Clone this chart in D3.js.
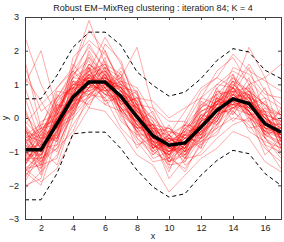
<!DOCTYPE html>
<html>
<head>
<meta charset="utf-8">
<script src="https://cdn.jsdelivr.net/npm/d3@7"></script>
<style>
  body { margin: 0; background: #fff; }
  svg { display: block; font-family: "Liberation Sans", Arial, sans-serif; }
</style>
</head>
<body>
<svg id="chart" width="284" height="242"></svg>
<script>
// x positions 1..17
var xs = d3.range(1, 18);

// cluster mean and +/- bands
var meanCurve = [-0.94, -0.94, -0.17, 0.62, 1.07, 1.07, 0.64, 0.03, -0.53, -0.81, -0.74, -0.27, 0.23, 0.57, 0.43, -0.17, -0.42];
var upperBand = [0.57, 0.57, 1.27, 2.1, 2.55, 2.55, 2.16, 1.37, 0.97, 0.65, 0.77, 1.17, 1.71, 2.06, 1.96, 1.42, 1.17];
var lowerBand = [-2.43, -2.43, -1.65, -0.47, -0.42, -0.42, -0.91, -1.55, -2.05, -2.35, -2.25, -1.7, -1.26, -0.96, -1.06, -1.65, -2.0];

// individual curves of the cluster
var curves = [
  [-0.5,-1.2,0.3,0.9,1.6,1.2,0.2,0.4,-0.8,-1.1,-0.3,-0.6,0.5,0.9,0.1,0.2,-0.9],
  [-1.4,-0.6,-0.5,1.1,0.8,1.5,1.0,-0.3,-0.2,-1.3,-1.0,0.1,-0.1,0.8,0.9,-0.5,-0.1],
  [0.2,-0.8,0.4,0.3,1.3,0.7,1.1,0.5,-0.9,-0.5,-1.2,-0.5,0.6,0.3,0.7,0.1,-0.6],
  [-1.7,-1.3,-0.9,0.2,0.9,1.8,0.3,-0.4,-0.7,-1.6,-0.4,-0.9,0.0,1.1,0.2,-0.8,-1.0],
  [-0.9,-0.2,0.6,1.4,1.0,0.6,1.4,0.2,-0.2,-0.6,-0.9,0.4,0.7,0.2,1.0,0.3,0.1],
  [2.4,1.0,0.1,1.2,2.2,1.4,0.9,0.8,-0.4,-0.3,-0.8,-0.1,0.9,1.3,0.6,0.4,-0.2],
  [-2.1,-1.6,-1.1,-0.2,0.5,0.9,0.1,-0.7,-1.3,-1.2,-1.5,-0.8,-0.4,0.2,-0.2,-0.9,-1.3],
  [-1.0,-0.4,-0.7,0.8,1.9,1.1,0.7,-0.2,-0.6,-0.9,-0.2,-0.3,0.3,0.4,1.2,-0.3,-0.5],
  [-0.3,-1.5,0.0,0.5,0.7,1.3,0.4,0.6,-0.1,-1.0,-0.6,-0.7,0.1,0.9,0.2,0.5,-0.7],
  [-1.2,-0.9,-1.4,0.0,1.3,0.8,1.2,0.1,-1.0,-0.7,-1.1,0.2,0.4,0.6,0.0,-0.4,-0.3],
  [1.7,-0.3,0.9,1.5,2.9,1.6,1.3,0.2,-0.3,-0.4,-0.5,0.3,1.0,1.4,1.1,0.6,0.3],
  [-1.6,-2.0,-0.6,0.4,0.6,0.9,-0.1,-0.5,-0.9,-1.4,-1.3,-0.6,-0.3,0.0,-0.1,-0.6,-1.1],
  [-0.7,-0.5,0.2,1.0,1.2,2.0,0.9,0.0,-0.7,-0.8,-0.5,-0.2,0.2,1.0,0.5,0.0,-0.4],
  [-1.1,-1.1,-0.4,0.6,0.4,1.0,0.5,0.3,-0.4,-1.5,-0.9,0.0,0.5,0.3,0.8,-0.2,0.2],
  [0.6,-0.7,0.8,0.7,1.5,0.5,0.8,-0.1,0.2,-0.9,-0.7,-0.4,0.8,0.7,0.3,0.9,-0.5],
  [-1.9,-1.0,-0.2,0.1,1.1,1.2,0.0,-0.6,-1.1,-0.6,-1.4,-1.0,-0.2,0.5,-0.4,-0.7,-0.9],
  [-0.4,-0.9,-0.8,1.3,1.7,0.9,1.5,0.7,-0.5,-1.2,-0.1,-0.5,0.0,1.2,0.6,-0.1,0.0],
  [-1.3,-0.7,0.5,0.9,0.3,1.4,0.6,-0.3,-0.8,-0.5,-1.0,0.3,0.6,-0.1,0.4,0.0,-0.8],
  [1.2,0.5,-0.3,1.8,2.3,1.9,1.1,0.9,0.1,-0.6,-0.2,0.6,0.4,1.5,1.3,0.7,0.6],
  [-1.5,-1.4,-1.2,0.3,0.8,0.4,0.2,-0.9,-0.3,-1.1,-1.6,-0.7,-0.5,0.4,0.1,-1.1,-0.6],
  [-0.8,-0.1,0.1,0.4,1.4,1.6,0.8,0.5,-0.6,-0.4,-0.6,-0.9,0.7,0.8,-0.1,0.3,-0.3],
  [-0.2,-1.3,-0.5,1.6,1.0,0.8,0.3,-0.4,-1.2,-1.0,-0.3,0.0,-0.2,0.6,0.7,-0.6,-1.2],
  [-1.8,-0.8,0.7,0.2,1.2,1.0,1.3,0.1,-0.4,-1.3,-0.8,-0.3,0.3,0.9,0.3,0.2,0.1],
  [-0.6,-1.7,-0.1,0.7,1.8,1.3,0.5,0.8,-0.9,-0.2,-1.0,-0.1,0.9,0.1,0.9,-0.3,-0.4],
  [0.9,-0.4,0.3,1.0,0.9,2.2,1.7,0.3,0.0,-0.7,-0.4,0.2,0.5,1.1,0.8,0.4,-0.1],
  [-1.2,-1.2,-0.9,-0.4,0.7,0.6,-0.3,-0.8,-0.6,-1.8,-1.2,-1.1,-0.6,-0.2,0.0,-0.8,-1.5],
  [-0.1,-0.6,0.5,1.2,1.1,0.7,0.6,-0.2,-0.2,-0.9,-0.7,-0.6,0.1,0.7,1.5,0.1,-0.6],
  [-1.0,-0.3,-0.6,0.5,1.6,1.1,1.0,0.2,-1.1,-0.6,-0.9,0.5,0.2,0.2,-0.3,-0.2,-0.2],
  [-2.0,-1.8,-0.3,0.0,0.6,1.3,0.2,-0.1,-0.8,-1.1,-0.5,-0.8,-0.1,0.6,0.2,-0.5,-0.8],
  [-0.5,-0.2,-0.1,0.8,1.3,1.5,0.4,0.6,-0.3,-0.8,-1.3,-0.2,0.4,1.0,0.6,0.0,-0.3],
  [0.3,-1.0,0.0,1.4,0.8,1.0,1.2,-0.5,-0.5,-0.3,-0.6,-0.4,0.8,0.5,0.2,-0.4,0.3],
  [-1.4,-0.5,-0.7,0.3,1.5,0.4,0.7,0.4,-0.7,-1.0,-0.8,0.1,0.0,0.9,0.4,0.6,-0.7],
  [-0.9,-1.6,0.2,1.1,1.0,1.7,0.1,-0.3,-0.2,-1.4,-0.2,-0.5,0.6,0.4,1.0,-0.1,-0.5],
  [-1.6,-0.9,-0.4,0.6,2.0,1.2,0.9,-0.6,-1.0,-0.5,-1.1,-0.3,0.2,1.3,0.0,-0.3,-1.0],
  [-0.7,-1.1,0.4,0.1,1.2,0.5,0.6,0.1,-0.6,-1.2,-0.4,0.4,0.3,0.1,0.7,-0.6,-0.2],
  [1.5,0.2,0.6,0.9,1.4,2.4,1.6,0.4,0.3,-0.1,-0.1,0.8,1.2,0.9,1.6,0.8,0.4],
  [-1.1,-0.7,-1.0,0.4,0.9,0.9,0.3,0.0,-0.9,-0.7,-1.0,-0.7,-0.3,0.7,0.2,-0.4,-0.6],
  [-0.3,-1.4,0.1,1.0,1.4,0.8,1.0,0.7,-0.4,-1.0,-0.6,0.0,0.5,0.8,0.5,0.2,-0.9],
  [-1.3,-0.6,-0.2,0.9,0.7,1.1,0.5,-0.2,-0.7,-0.9,-1.1,-0.4,0.1,0.3,0.6,-0.2,-0.4],
  [-0.8,-1.2,0.3,0.5,1.1,1.4,0.8,0.2,-0.1,-1.1,-0.5,-0.1,0.4,1.1,0.4,0.1,-0.1],
  [1.0,2.0,0.2,1.5,2.6,2.0,1.0,0.6,0.5,0.0,0.3,0.6,1.4,1.8,1.0,1.2,0.0],
  [-1.5,-1.9,-1.5,-0.5,0.3,0.2,-0.4,-1.1,-1.4,-2.2,-1.7,-1.2,-0.9,-0.4,-0.6,-1.3,-1.6],
  [-0.2,0.4,0.9,1.4,2.1,1.5,1.2,2.1,0.3,-0.5,0.2,0.9,1.2,1.9,1.4,1.1,0.8],
  [-0.6,-0.3,0.0,0.7,1.3,1.0,0.9,0.3,-0.2,-0.3,-0.8,0.6,1.0,0.9,2.1,1.2,1.6],
  [-0.9,-0.8,-0.3,0.4,1.5,0.9,0.4,-0.1,-0.7,-0.6,-0.9,-0.3,0.3,0.5,0.2,-0.2,-0.6],
  [-1.2,-0.4,0.1,1.1,0.6,1.2,0.8,0.1,-0.5,-1.0,-0.6,-0.5,0.1,0.7,0.6,-0.4,-0.5],
  [-0.6,-1.0,-0.4,0.8,1.2,1.4,0.2,-0.3,-0.4,-0.8,-1.2,0.0,0.5,0.4,0.3,0.0,-0.7],
  [-1.5,-1.1,0.0,0.5,1.0,0.8,0.9,0.4,-0.8,-1.1,-0.7,-0.2,-0.1,0.8,0.7,-0.5,-0.3],
  [-0.4,-0.6,-0.6,0.9,0.9,1.3,0.6,-0.4,-0.3,-0.7,-0.5,-0.6,0.4,0.6,0.1,0.1,-0.5],
  [-1.0,-1.4,0.0,0.3,1.4,1.0,0.5,0.2,-0.6,-1.0,-0.9,-0.1,0.2,0.4,0.5,-0.3,-0.6],
  [-0.7,-0.3,-0.2,0.6,1.1,1.6,0.7,0.0,-0.9,-0.6,-0.7,-0.3,0.5,0.7,0.3,-0.1,-0.2],
  [-1.3,-0.9,-0.5,0.7,0.8,1.1,0.9,0.1,-0.4,-1.2,-0.8,-0.4,0.0,0.5,0.6,-0.2,-0.5],
  [-0.8,-1.0,0.1,0.6,1.3,0.7,0.3,-0.1,-0.5,-0.8,-0.6,-0.2,0.3,0.8,0.2,-0.3,-0.4],
  [-1.1,-0.5,-0.3,0.5,1.0,1.2,0.6,0.3,-0.6,-0.9,-1.0,-0.1,0.2,0.6,0.4,-0.1,-0.6],
  [-0.2,-0.9,0.2,1.2,1.5,1.1,0.8,0.0,-0.3,-0.7,-0.4,-0.3,0.6,0.9,0.7,0.2,-0.2],
  [-1.6,-1.2,-0.8,0.1,0.7,1.0,0.2,-0.4,-1.0,-1.3,-1.1,-0.6,-0.2,0.3,0.1,-0.6,-0.9],
  [-0.5,-0.7,-0.1,0.9,1.2,0.9,1.1,0.4,-0.4,-0.5,-0.8,0.1,0.3,0.6,0.8,0.0,-0.3],
  [-1.0,-1.3,-0.3,0.4,0.9,1.5,0.4,-0.2,-0.8,-1.0,-0.5,-0.5,0.2,0.7,0.3,-0.4,-0.8],
  [-0.3,-0.8,0.0,0.7,1.6,1.3,0.6,0.1,-0.2,-0.9,-0.9,-0.2,0.4,0.4,0.5,0.1,-0.1],
  [-1.4,-0.8,-0.6,0.2,1.1,0.7,0.5,-0.2,-0.6,-0.7,-1.2,-0.4,-0.1,0.6,0.2,-0.5,-0.7],
  [-0.6,-0.4,0.4,1.0,1.0,1.2,0.9,0.3,-0.5,-1.1,-0.3,0.2,0.4,0.9,0.5,0.0,-0.4],
  [-1.2,-1.5,-0.4,0.6,1.2,0.9,0.3,-0.3,-0.9,-0.6,-1.0,-0.6,0.1,0.3,0.4,-0.3,-0.3],
  [0.1,-0.5,0.6,1.3,1.8,1.0,0.7,0.5,0.0,-0.5,-0.2,0.3,0.7,1.2,0.8,0.4,0.1],
  [-0.9,-1.1,-0.2,0.3,0.9,1.1,0.6,0.0,-0.7,-1.3,-0.8,-0.1,0.2,0.5,0.1,-0.2,-0.5]
];

var xTicks = [2, 4, 6, 8, 10, 12, 14, 16];
var yTicks = [-3, -2, -1, 0, 1, 2, 3];

var margin = {top: 17, right: 3, bottom: 23, left: 25}
  , width = 284 - margin.left - margin.right
  , height = 242 - margin.top - margin.bottom
  , axisColor = "#404040"
  ;

var svg = d3.select("#chart");

var x = d3.scaleLinear().domain([1, 17]).range([0, width]);
var y = d3.scaleLinear().domain([-3, 3]).range([height, 0]);

var g = svg.append("g")
    .attr("transform", "translate(" + margin.left + "," + margin.top + ")");

g.append("clipPath").attr("id", "clip")
  .append("rect").attr("width", width).attr("height", height);

var line = d3.line()
    .x(function (d, i) { return x(xs[i]); })
    .y(function (d) { return y(d); });

var plot = g.append("g").attr("clip-path", "url(#clip)");

plot.selectAll("path.curve")
    .data(curves)
  .enter().append("path")
    .attr("class", "curve")
    .attr("d", line)
    .attr("fill", "none")
    .attr("stroke", "rgb(255,0,0)")
    .attr("stroke-opacity", 0.42)
    .attr("stroke-width", 0.8);

plot.selectAll("path.band")
    .data([upperBand, lowerBand])
  .enter().append("path")
    .attr("class", "band")
    .attr("d", line)
    .attr("fill", "none")
    .attr("stroke", "#000")
    .attr("stroke-width", 1)
    .attr("stroke-dasharray", "4,3");

plot.append("path")
    .datum(meanCurve)
    .attr("d", line)
    .attr("fill", "none")
    .attr("stroke", "#000")
    .attr("stroke-width", 3.5)
    .attr("stroke-linejoin", "miter");

// axes: MATLAB style box with inward ticks on all four sides
function styleAxis(sel) {
    sel.select(".domain").remove();
    sel.selectAll(".tick line").attr("stroke", axisColor);
    sel.selectAll(".tick text").attr("fill", "#222").style("font-size", "9px");
}

g.append("g")
    .attr("transform", "translate(0," + height + ")")
    .call(d3.axisBottom(x).tickValues(xTicks).tickSize(-3).tickPadding(6).tickFormat(d3.format("d")))
    .call(styleAxis);

g.append("g")
    .call(d3.axisTop(x).tickValues(xTicks).tickSize(-3).tickFormat(""))
    .call(styleAxis);

g.append("g")
    .call(d3.axisLeft(y).tickValues(yTicks).tickSize(-3).tickPadding(6).tickFormat(function (d) { return d < 0 ? "\u2212" + Math.abs(d) : d; }))
    .call(styleAxis);

g.append("g")
    .attr("transform", "translate(" + width + ",0)")
    .call(d3.axisRight(y).tickValues(yTicks).tickSize(-3).tickFormat(""))
    .call(styleAxis);

g.append("rect")
    .attr("width", width)
    .attr("height", height)
    .attr("fill", "none")
    .attr("stroke", axisColor)
    .attr("stroke-width", 1)
    .attr("shape-rendering", "crispEdges");

// labels
svg.append("text")
    .attr("x", margin.left + width / 2)
    .attr("y", 11)
    .attr("text-anchor", "middle")
    .attr("fill", "#222")
    .style("font-size", "9px")
    .text("Robust EM\u2212MixReg clustering : iteration 84; K = 4");

svg.append("text")
    .attr("x", margin.left + width / 2)
    .attr("y", 239)
    .attr("text-anchor", "middle")
    .attr("fill", "#222")
    .style("font-size", "9px")
    .text("x");

svg.append("text")
    .attr("transform", "translate(8," + (margin.top + height / 2) + ") rotate(-90)")
    .attr("text-anchor", "middle")
    .attr("fill", "#222")
    .style("font-size", "9px")
    .text("y");
</script>
</body>
</html>
